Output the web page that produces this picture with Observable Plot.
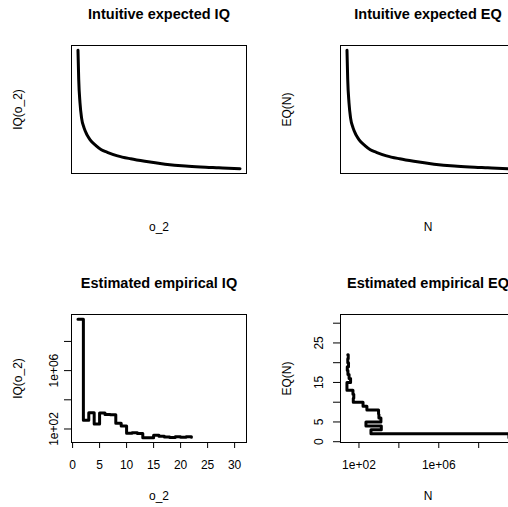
<!DOCTYPE html>
<html>
<head>
<meta charset="utf-8">
<script src="https://cdn.jsdelivr.net/npm/d3@7"></script>
<script src="https://cdn.jsdelivr.net/npm/@observablehq/plot@0.6"></script>
<style>
html, body { margin: 0; padding: 0; background: #fff; overflow: hidden; }
#wrap { position: relative; width: 508px; height: 507px; overflow: hidden; background: #fff; }
#wrap > svg { position: absolute; }
</style>
</head>
<body>
<div id="wrap"></div>
<script>
// ---- data ----
// intuitive curves (unlabelled axes, relative units)
const intuitiveX = [1, 1.44, 2.24, 3.18, 4.71, 6.54, 8.43, 12.14, 15.26, 18.92, 25.16, 33.18, 41.84, 54.21, 66.59, 75.84, 87.03, 100];
const intuitiveY = [1, 0.756, 0.555, 0.429, 0.345, 0.286, 0.244, 0.193, 0.160, 0.139, 0.109, 0.084, 0.063, 0.039, 0.023, 0.015, 0.008, 0];

// empirical step data
const o2Values = [1, 2, 3, 4, 5, 6, 7, 8, 9, 10, 11, 12, 13, 14, 15, 16, 17, 18, 19, 20, 21, 22];
const iqValues = [3.3e9, 400, 1320, 224, 1260, 1000, 960, 250, 160, 52, 55, 50, 25, 25, 38, 32, 28, 26, 30, 27.5, 29, 27.5];

// ticks
const linTicks = [0, 5, 10, 15, 20, 25, 30];
const linLabelTicksY = [0, 5, 15, 25];
const logTicks = [1e2, 1e4, 1e6, 1e8];
const logLabelTicks = [1e2, 1e6];
const logLabelText = ["1e+02", "1e+06"];

// titles / labels
const titles = ["Intuitive expected IQ", "Intuitive expected EQ", "Estimated empirical IQ", "Estimated empirical EQ"];
const xLabels = ["o_2", "N", "o_2", "N"];
const yLabels = ["IQ(o_2)", "EQ(N)", "IQ(o_2)", "EQ(N)"];

// ---- build ----
const FONT = '"Liberation Sans", Arial, Helvetica, sans-serif';
const curveData = intuitiveX.map((x, i) => ({x, y: intuitiveY[i]}));
const empirical = o2Values.map((o, i) => ({o2: o, iq: iqValues[i]}));
const logDomain = [11.885, 6.998e9];
const linDomain = [-0.2, 32.2];
const wrap = document.getElementById("wrap");
const T = {textAnchor: "middle", lineAnchor: "middle", fill: "black", fontSize: 12};

function place(svg, left, top) {
  svg.style.position = "absolute";
  svg.style.left = left + "px";
  svg.style.top = top + "px";
  wrap.appendChild(svg);
}

function common(k) {
  return [
    Plot.frame({stroke: "black", strokeWidth: 1}),
    Plot.text([titles[k]], {...T, text: d => d, frameAnchor: "top", dy: -31, fontWeight: "bold", fontSize: 14.5}),
    Plot.text([xLabels[k]], {...T, text: d => d, frameAnchor: "bottom", dy: 54}),
    Plot.text([yLabels[k]], {...T, text: d => d, frameAnchor: "left", dx: -53, rotate: -90})
  ];
}

const style = {fontFamily: FONT, fontSize: "12px", color: "black", background: "transparent", overflow: "visible"};

// top-left
place(Plot.plot({
  width: 254, height: 254, marginLeft: 71, marginRight: 8, marginTop: 45, marginBottom: 81,
  style,
  x: {domain: [-2.96, 103.96], axis: null},
  y: {domain: [-0.04, 1.04], axis: null},
  marks: [
    ...common(0),
    Plot.line(curveData, {x: "x", y: "y", stroke: "black", strokeWidth: 3, curve: "monotone-x"})
  ]
}), 0, 0);

// top-right
place(Plot.plot({
  width: 270, height: 254, marginLeft: 86, marginRight: 9, marginTop: 45, marginBottom: 81,
  style,
  x: {domain: [-2.96, 103.96], axis: null},
  y: {domain: [-0.04, 1.04], axis: null},
  marks: [
    ...common(1),
    Plot.line(curveData, {x: "x", y: "y", stroke: "black", strokeWidth: 3, curve: "monotone-x"})
  ]
}), 254, 0);

// bottom-left
place(Plot.plot({
  width: 254, height: 253, marginLeft: 71, marginRight: 8, marginTop: 60, marginBottom: 65,
  style,
  x: {domain: linDomain, axis: null},
  y: {type: "log", domain: logDomain, axis: null},
  marks: [
    ...common(2),
    Plot.axisX({ticks: linTicks, tickSize: 6, stroke: "black", fill: "none", label: null}),
    Plot.axisY({ticks: logTicks, tickSize: 7, stroke: "black", fill: "none", label: null}),
    Plot.text(linTicks, {...T, x: d => d, text: d => String(d), frameAnchor: "bottom", dy: 23}),
    Plot.text(logLabelTicks, {...T, y: d => d, text: (d, i) => logLabelText[i], frameAnchor: "left", dx: -17.5, rotate: -90}),
    Plot.line(empirical, {x: "o2", y: "iq", curve: "step-after", stroke: "black", strokeWidth: 3})
  ]
}), 0, 254);

// bottom-right
place(Plot.plot({
  width: 270, height: 253, marginLeft: 86, marginRight: 9, marginTop: 60, marginBottom: 65,
  style,
  x: {type: "log", domain: logDomain, axis: null},
  y: {domain: linDomain, axis: null},
  marks: [
    ...common(3),
    Plot.axisX({ticks: logTicks, tickSize: 6, stroke: "black", fill: "none", label: null}),
    Plot.axisY({ticks: linTicks, tickSize: 7, stroke: "black", fill: "none", label: null}),
    Plot.text(logLabelTicks, {...T, x: d => d, text: (d, i) => logLabelText[i], frameAnchor: "bottom", dy: 23}),
    Plot.text(linLabelTicksY, {...T, y: d => d, text: d => String(d), frameAnchor: "left", dx: -21, rotate: -90}),
    Plot.line(empirical, {x: "iq", y: "o2", curve: "step-before", stroke: "black", strokeWidth: 3})
  ]
}), 254, 254);
</script>
</body>
</html>
